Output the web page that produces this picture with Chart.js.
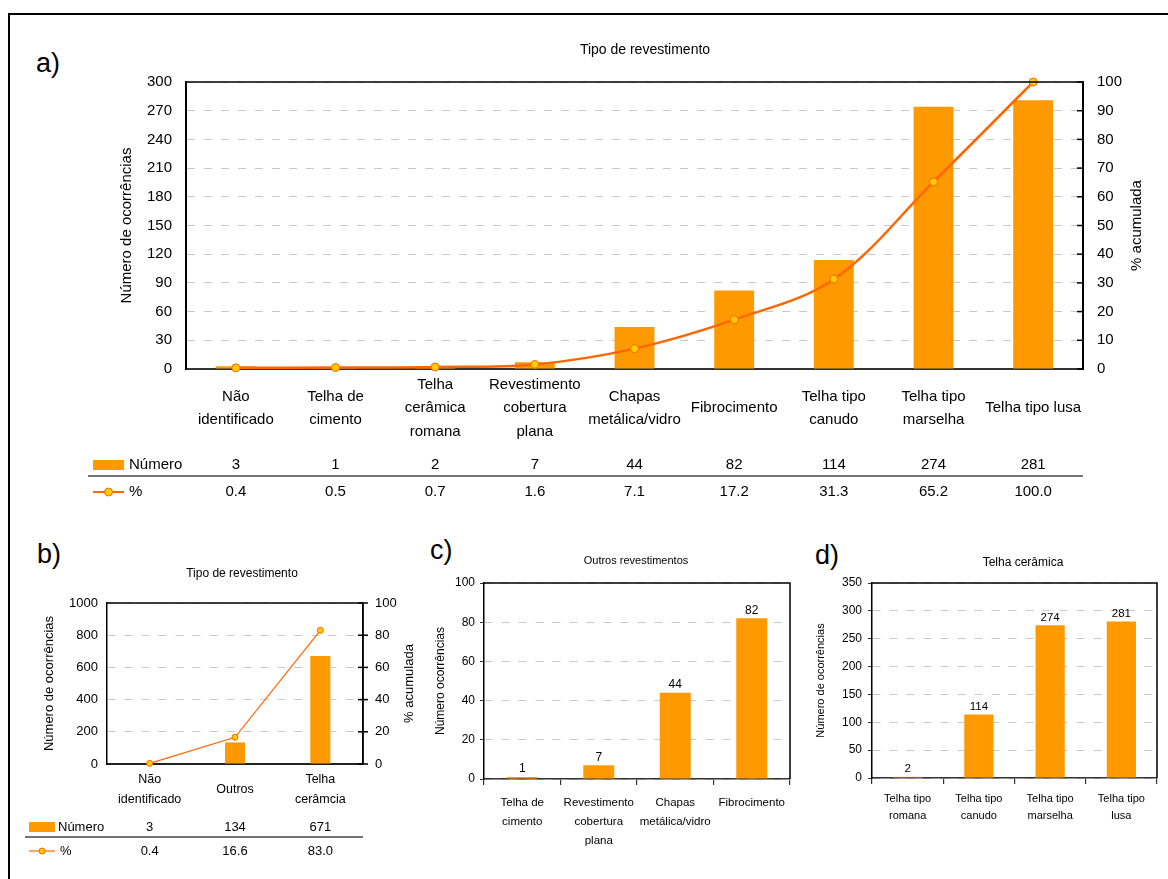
<!DOCTYPE html>
<html>
<head>
<meta charset="utf-8">
<script src="https://cdn.jsdelivr.net/npm/chart.js@4.4.0/dist/chart.umd.min.js"></script>
<style>
body { margin: 0; background: #fff; width: 1168px; height: 879px; overflow: hidden; position: relative; font-family: 'Liberation Sans', Arial, sans-serif; }
#frame { position: absolute; left: 8px; top: 13px; width: 1200px; height: 900px; border-left: 2px solid #000; border-top: 2px solid #000; }
canvas { position: absolute; }
.tag { position: absolute; font-size: 27px; line-height: 27px; color: #000; }
</style>
</head>
<body>
<div id="frame"></div>
<div class="tag" style="left:36px;top:50px">a)</div>
<div class="tag" style="left:37px;top:541px">b)</div>
<div class="tag" style="left:430px;top:537px">c)</div>
<div class="tag" style="left:815px;top:542px">d)</div>
<canvas id="ca" width="1168" height="500" style="left:0;top:20px"></canvas>
<canvas id="cb" width="410" height="355" style="left:12px;top:520px"></canvas>
<canvas id="cc" width="380" height="345" style="left:425px;top:530px"></canvas>
<canvas id="cd" width="368" height="345" style="left:800px;top:530px"></canvas>
<script>
var FA = "'Liberation Sans', Arial, sans-serif";

// a) Tipo de revestimento
var catA = [['Não', 'identificado'], ['Telha de', 'cimento'], ['Telha', 'cerâmica', 'romana'], ['Revestimento', 'cobertura', 'plana'], ['Chapas', 'metálica/vidro'], 'Fibrocimento', ['Telha tipo', 'canudo'], ['Telha tipo', 'marselha'], 'Telha tipo lusa'];
var numA = [3, 1, 2, 7, 44, 82, 114, 274, 281];
var pctA = [0.4, 0.5, 0.7, 1.6, 7.1, 17.2, 31.3, 65.2, 100.0];

// b) Tipo de revestimento (agrupado)
var catB = [['Não', 'identificado'], 'Outros', ['Telha', 'cerâmcia']];
var numB = [3, 134, 671];
var pctB = [0.4, 16.6, 83.0];

// c) Outros revestimentos
var catC = [['Telha de', 'cimento'], ['Revestimento', 'cobertura', 'plana'], ['Chapas', 'metálica/vidro'], 'Fibrocimento'];
var numC = [1, 7, 44, 82];

// d) Telha cerâmica
var catD = [['Telha tipo', 'romana'], ['Telha tipo', 'canudo'], ['Telha tipo', 'marselha'], ['Telha tipo', 'lusa']];
var numD = [2, 114, 274, 281];

var BAR = '#FF9900', LINE = '#FF6600', DOT = '#FFCC00', GRID = '#c8c8c8';

function vtext(ctx, s, x, y) {
    ctx.save();
    ctx.translate(x, y);
    ctx.rotate(-Math.PI / 2);
    ctx.fillText(s, 0, 0);
    ctx.restore();
}

function drawTable(chart, t) {
    var ctx = chart.ctx, xs = chart.scales.x, a = chart.chartArea;
    ctx.font = t.font;
    ctx.textBaseline = 'middle';
    ctx.fillStyle = BAR;
    ctx.fillRect(t.swX, t.y1 - t.swH / 2, t.swW, t.swH);
    ctx.strokeStyle = LINE;
    ctx.lineWidth = t.lw;
    ctx.beginPath();
    ctx.moveTo(t.swX, t.y2);
    ctx.lineTo(t.swX + t.swW, t.y2);
    ctx.stroke();
    ctx.beginPath();
    ctx.arc(t.swX + t.swW / 2, t.y2, t.pr, 0, Math.PI * 2);
    ctx.fillStyle = DOT;
    ctx.fill();
    ctx.lineWidth = 1;
    ctx.stroke();
    ctx.fillStyle = '#000';
    ctx.textAlign = 'left';
    ctx.fillText('Número', t.tx1, t.y1);
    ctx.fillText('%', t.tx2, t.y2);
    ctx.strokeStyle = '#444';
    ctx.lineWidth = 1.5;
    ctx.beginPath();
    ctx.moveTo(t.sepX, t.sepY);
    ctx.lineTo(a.right, t.sepY);
    ctx.stroke();
    ctx.textAlign = 'center';
    t.row1.forEach(function (v, i) { ctx.fillText(String(v), xs.getPixelForValue(i), t.y1); });
    t.row2.forEach(function (v, i) { ctx.fillText(v.toFixed(1), xs.getPixelForValue(i), t.y2); });
}

var decor = {
    id: 'decor',
    afterDraw: function (chart, args, o) {
        if (!o || !o.title) return;
        var ctx = chart.ctx, a = chart.chartArea;
        ctx.save();
        // plot border (top + right)
        ctx.strokeStyle = '#000';
        ctx.lineWidth = 1.5;
        ctx.beginPath();
        ctx.moveTo(a.left, a.top);
        ctx.lineTo(a.right, a.top);
        ctx.lineTo(a.right, a.bottom);
        ctx.stroke();
        // small ticks on the right axis
        if (o.innerTicks && chart.scales.y2) {
            ctx.lineWidth = 1.5;
            chart.scales.y2.ticks.forEach(function (tk) {
                var py = chart.scales.y2.getPixelForValue(tk.value);
                ctx.beginPath();
                ctx.moveTo(a.right - o.innerTicks[0], py);
                ctx.lineTo(a.right + o.innerTicks[1], py);
                ctx.stroke();
            });
        }
        ctx.fillStyle = '#000';
        ctx.textAlign = 'center';
        ctx.textBaseline = 'middle';
        ctx.font = o.titleFont;
        ctx.fillText(o.title, o.titleX, o.titleY);
        ctx.font = o.axisFont;
        var my = (a.top + a.bottom) / 2;
        if (o.yTitle) vtext(ctx, o.yTitle, o.yTitleX, my);
        if (o.y2Title) vtext(ctx, o.y2Title, o.y2TitleX, my);
        if (o.valueFont) {
            ctx.font = o.valueFont;
            var ds = chart.data.datasets[0].data;
            chart.getDatasetMeta(0).data.forEach(function (bar, i) {
                ctx.fillText(String(ds[i]), bar.x, bar.y - 8);
            });
        }
        if (o.table) drawTable(chart, o.table);
        ctx.restore();
    }
};

Chart.register(decor);
Chart.defaults.font.family = FA;
Chart.defaults.color = '#000';
Chart.defaults.animation = false;
Chart.defaults.plugins.legend.display = false;
Chart.defaults.plugins.tooltip.enabled = false;

function fixW(w) { return function (s) { s.width = w; }; }
function fixH(h) { return function (s) { s.height = h; }; }
function plain(v) { return String(v); }

// a)
new Chart(document.getElementById('ca'), {
    type: 'bar',
    data: {
        labels: catA,
        datasets: [
            { type: 'line', data: pctA, yAxisID: 'y2', order: 0, borderColor: LINE, borderWidth: 2.5, tension: 0.35,
              pointRadius: 4, pointBackgroundColor: DOT, pointBorderColor: LINE, pointBorderWidth: 1, clip: false },
            { type: 'bar', data: numA, yAxisID: 'y', order: 1, backgroundColor: BAR, barPercentage: 0.4, categoryPercentage: 1 }
        ]
    },
    options: {
        responsive: false,
        layout: { padding: { left: 100, right: 25, top: 62, bottom: 51 } },
        scales: {
            x: { grid: { display: false, drawTicks: false }, border: { color: '#333', width: 2 },
                 ticks: { autoSkip: false, maxRotation: 0, minRotation: 0, crossAlign: 'center', padding: 16, font: { size: 15, lineHeight: 1.55 } },
                 afterFit: fixH(100) },
            y: { position: 'left', min: 0, max: 300, ticks: { stepSize: 30, padding: 14, font: { size: 15 }, callback: plain },
                 grid: { color: GRID, drawTicks: false }, border: { color: '#000', width: 2, dash: [8, 9] }, afterFit: fixW(86) },
            y2: { position: 'right', min: 0, max: 100, ticks: { stepSize: 10, padding: 14, font: { size: 15 }, callback: plain },
                  grid: { display: false, drawTicks: false }, border: { color: '#000', width: 2 }, afterFit: fixW(60) }
        },
        plugins: {
            decor: {
                title: 'Tipo de revestimento', titleX: 645, titleY: 30, titleFont: '14px ' + FA,
                yTitle: 'Número de ocorrências', yTitleX: 127, y2Title: '% acumulada', y2TitleX: 1137, axisFont: '15px ' + FA,
                innerTicks: [6, 0],
                table: { font: '15px ' + FA, y1: 445, y2: 472, sepY: 456, sepX: 88, swX: 93, swW: 31, swH: 10,
                         tx1: 129, tx2: 129, lw: 2, pr: 4, row1: numA, row2: pctA }
            }
        }
    }
});

// b)
new Chart(document.getElementById('cb'), {
    type: 'bar',
    data: {
        labels: catB,
        datasets: [
            { type: 'line', data: pctB, yAxisID: 'y2', order: 0, borderColor: LINE, borderWidth: 1.2, tension: 0,
              pointRadius: 3, pointBackgroundColor: DOT, pointBorderColor: LINE, pointBorderWidth: 1, clip: false },
            { type: 'bar', data: numB, yAxisID: 'y', order: 1, backgroundColor: BAR, barPercentage: 0.235, categoryPercentage: 1 }
        ]
    },
    options: {
        responsive: false,
        layout: { padding: { left: 55, right: 19, top: 83, bottom: 51 } },
        scales: {
            x: { grid: { display: false, drawTicks: false }, border: { color: '#222', width: 2 },
                 ticks: { autoSkip: false, maxRotation: 0, minRotation: 0, crossAlign: 'center', padding: 16, font: { size: 12.5, lineHeight: 1.6 } },
                 afterFit: fixH(60) },
            y: { position: 'left', min: 0, max: 1000, ticks: { stepSize: 200, padding: 9, font: { size: 13 }, callback: plain },
                 grid: { color: GRID, drawTicks: false }, border: { color: '#000', width: 1.5, dash: [8, 9] }, afterFit: fixW(40) },
            y2: { position: 'right', min: 0, max: 100, ticks: { stepSize: 20, padding: 12, font: { size: 13 }, callback: plain },
                  grid: { display: false, drawTicks: false }, border: { color: '#000', width: 1.5 }, afterFit: fixW(40) }
        },
        plugins: {
            decor: {
                title: 'Tipo de revestimento', titleX: 230, titleY: 54, titleFont: '12px ' + FA,
                yTitle: 'Número de ocorrências', yTitleX: 37, y2Title: '% acumulada', y2TitleX: 397, axisFont: '13px ' + FA,
                innerTicks: [5, 5],
                table: { font: '13px ' + FA, y1: 307, y2: 331, sepY: 317, sepX: 13, swX: 17, swW: 26, swH: 10,
                         tx1: 46, tx2: 48, lw: 1.2, pr: 3, row1: numB, row2: pctB }
            }
        }
    }
});

// c)
new Chart(document.getElementById('cc'), {
    type: 'bar',
    data: {
        labels: catC,
        datasets: [{ data: numC, backgroundColor: BAR, barPercentage: 0.405, categoryPercentage: 1 }]
    },
    options: {
        responsive: false,
        layout: { padding: { left: 19, right: 15, top: 53, bottom: 26 } },
        scales: {
            x: { grid: { display: true, drawOnChartArea: false, drawTicks: true, tickLength: 6, color: '#333', lineWidth: 1.2 },
                 border: { color: '#333', width: 1.5 },
                 ticks: { autoSkip: false, maxRotation: 0, minRotation: 0, padding: 8, font: { size: 11.5, lineHeight: 1.68 } },
                 afterFit: fixH(70) },
            y: { min: 0, max: 100, ticks: { stepSize: 20, padding: 5, font: { size: 12 }, callback: plain },
                 grid: { color: GRID, drawTicks: true, tickLength: 4, tickColor: '#333' },
                 border: { color: '#000', width: 1.5, dash: [8, 9] }, afterFit: fixW(40) }
        },
        plugins: {
            decor: {
                title: 'Outros revestimentos', titleX: 211, titleY: 31, titleFont: '11px ' + FA,
                yTitle: 'Número ocorrências', yTitleX: 16, axisFont: '12px ' + FA,
                valueFont: '12px ' + FA
            }
        }
    }
});

// d)
new Chart(document.getElementById('cd'), {
    type: 'bar',
    data: {
        labels: catD,
        datasets: [{ data: numD, backgroundColor: BAR, barPercentage: 0.41, categoryPercentage: 1 }]
    },
    options: {
        responsive: false,
        layout: { padding: { left: 22, right: 11, top: 53, bottom: 27 } },
        scales: {
            x: { grid: { display: true, drawOnChartArea: false, drawTicks: true, tickLength: 6, color: '#333', lineWidth: 1.2 },
                 border: { color: '#333', width: 1.5 },
                 ticks: { autoSkip: false, maxRotation: 0, minRotation: 0, padding: 6, font: { size: 11, lineHeight: 1.6 } },
                 afterFit: fixH(70) },
            y: { min: 0, max: 350, ticks: { stepSize: 50, padding: 6, font: { size: 12 }, callback: plain },
                 grid: { color: GRID, drawTicks: true, tickLength: 4, tickColor: '#333' },
                 border: { color: '#000', width: 1.5, dash: [8, 9] }, afterFit: fixW(50) }
        },
        plugins: {
            decor: {
                title: 'Telha cerâmica', titleX: 223, titleY: 33, titleFont: '12px ' + FA,
                yTitle: 'Número de ocorrências', yTitleX: 21, axisFont: '11px ' + FA,
                valueFont: '11.5px ' + FA
            }
        }
    }
});
</script>
</body>
</html>
